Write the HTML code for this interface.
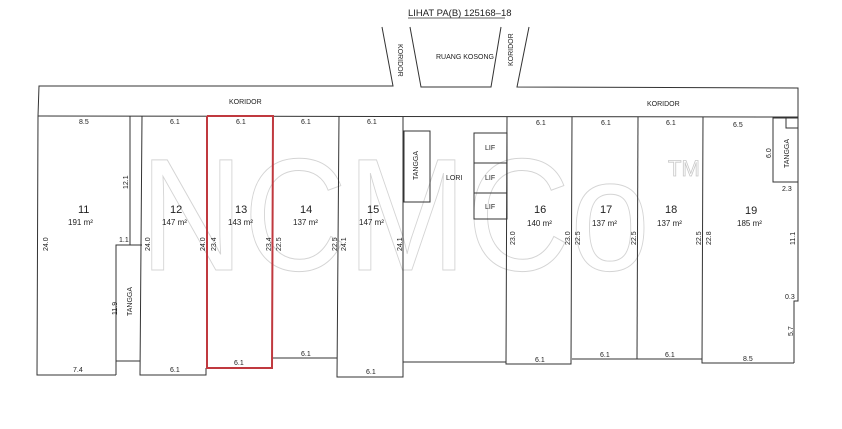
<!DOCTYPE html>
<html><head><style>
html,body{margin:0;padding:0;background:#fff;}
svg{display:block;}
text{font-family:"Liberation Sans",sans-serif;fill:#222;}
.s{font-size:7px;}
.m{font-size:8px;}
.n{font-size:11px;}
</style></head><body>
<svg width="842" height="429" viewBox="0 0 842 429" xmlns="http://www.w3.org/2000/svg">
<!-- watermark -->
<text x="140" y="270" font-size="160" textLength="510" lengthAdjust="spacingAndGlyphs" style="fill:none;stroke:#d4d4d4;stroke-width:1;font-family:'Liberation Sans',sans-serif">NCMCo</text>
<text x="668" y="176" font-size="22" style="fill:none;stroke:#c8c8c8;stroke-width:0.8">TM</text>

<g stroke="#333" stroke-width="1" fill="none">
<!-- top koridor / ruang kosong -->
<polyline points="382,27 393,86 39,86 38,116"/>
<polyline points="410,27 421,87 491,87 501,27"/>
<polyline points="529,27 517,87 798,88 798,301 794,301 794,363"/>
<line x1="38" y1="116" x2="798" y2="117"/>
<!-- unit 11 -->
<polyline points="38,116 37,375 116,375"/>
<line x1="130" y1="116" x2="130" y2="245"/>
<polyline points="116,375 116,245 142,245"/>
<line x1="116" y1="361" x2="140" y2="361"/>
<!-- 12 -->
<polyline points="142,116 140,375 206,375 206,368"/>
<!-- 14 -->
<polyline points="273,358 337,358"/>
<!-- 15 -->
<polyline points="339,116 337,377 403,377 403,117"/>
<polyline points="403,362 506,362"/>
<rect x="404" y="131" width="26" height="71"/>
<!-- LIF -->
<rect x="474" y="133" width="33" height="30"/>
<rect x="474" y="163" width="33" height="30"/>
<rect x="474" y="193" width="33" height="26"/>
<!-- 16 -->
<polyline points="507,117 506,364 571,364 572,117"/>
<line x1="572" y1="359" x2="702" y2="359"/>
<line x1="638" y1="117" x2="637" y2="359"/>
<polyline points="703,117 702,363 794,363"/>
<rect x="773" y="118" width="25" height="64"/>
<rect x="786" y="118" width="12" height="10"/>
</g>
<!-- red unit 13 -->
<polyline points="207,116 273,116 272,368 207,368 207,116" fill="none" stroke="#c0393f" stroke-width="2"/>

<!-- title -->
<text x="408" y="16" font-size="9.5">LIHAT PA(B) 125168–18</text>
<line x1="408" y1="18" x2="505" y2="18" stroke="#333" stroke-width="0.8"/>
<text x="436" y="59" class="s">RUANG KOSONG</text>
<text class="s" transform="translate(398,44) rotate(90)">KORIDOR</text>
<text class="s" transform="translate(513,66) rotate(-90)">KORIDOR</text>
<text x="229" y="104" class="s">KORIDOR</text>
<text x="647" y="106" class="s">KORIDOR</text>

<!-- top dims -->
<text x="79" y="124" class="s">8.5</text>
<text x="170" y="124" class="s">6.1</text>
<text x="236" y="124" class="s">6.1</text>
<text x="301" y="124" class="s">6.1</text>
<text x="367" y="124" class="s">6.1</text>
<text x="536" y="125" class="s">6.1</text>
<text x="601" y="125" class="s">6.1</text>
<text x="666" y="125" class="s">6.1</text>
<text x="733" y="127" class="s">6.5</text>
<text x="782" y="191" class="s">2.3</text>
<text class="s" transform="translate(771,158) rotate(-90)">6.0</text>
<text class="s" transform="translate(789,168) rotate(-90)">TANGGA</text>
<text class="s" transform="translate(418,180) rotate(-90)">TANGGA</text>
<text x="446" y="180" class="s">LORI</text>
<text x="485" y="150" class="s">LIF</text>
<text x="485" y="180" class="s">LIF</text>
<text x="485" y="209" class="s">LIF</text>

<!-- unit numbers -->
<text x="78" y="213" class="n">11</text><text x="68" y="225" class="m">191 m²</text>
<text x="170" y="213" class="n">12</text><text x="162" y="225" class="m">147 m²</text>
<text x="235" y="213" class="n">13</text><text x="228" y="225" class="m">143 m²</text>
<text x="300" y="213" class="n">14</text><text x="293" y="225" class="m">137 m²</text>
<text x="367" y="213" class="n">15</text><text x="359" y="225" class="m">147 m²</text>
<text x="534" y="213" class="n">16</text><text x="527" y="226" class="m">140 m²</text>
<text x="600" y="213" class="n">17</text><text x="592" y="226" class="m">137 m²</text>
<text x="665" y="213" class="n">18</text><text x="657" y="226" class="m">137 m²</text>
<text x="745" y="214" class="n">19</text><text x="737" y="226" class="m">185 m²</text>

<!-- vertical dims -->
<g class="s">
<text class="s" transform="translate(128,189) rotate(-90)">12.1</text>
<text class="s" transform="translate(48,251) rotate(-90)">24.0</text>
<text x="119" y="242" class="s">1.1</text>
<text class="s" transform="translate(150,251) rotate(-90)">24.0</text>
<text class="s" transform="translate(205,251) rotate(-90)">24.0</text>
<text class="s" transform="translate(216,251) rotate(-90)">23.4</text>
<text class="s" transform="translate(271,251) rotate(-90)">23.4</text>
<text class="s" transform="translate(281,251) rotate(-90)">22.5</text>
<text class="s" transform="translate(337,251) rotate(-90)">22.5</text>
<text class="s" transform="translate(346,251) rotate(-90)">24.1</text>
<text class="s" transform="translate(402,251) rotate(-90)">24.1</text>
<text class="s" transform="translate(117,315) rotate(-90)">11.9</text>
<text class="s" transform="translate(132,316) rotate(-90)">TANGGA</text>
<text class="s" transform="translate(515,245) rotate(-90)">23.0</text>
<text class="s" transform="translate(570,245) rotate(-90)">23.0</text>
<text class="s" transform="translate(580,245) rotate(-90)">22.5</text>
<text class="s" transform="translate(636,245) rotate(-90)">22.5</text>
<text class="s" transform="translate(701,245) rotate(-90)">22.5</text>
<text class="s" transform="translate(711,245) rotate(-90)">22.8</text>
<text class="s" transform="translate(795,245) rotate(-90)">11.1</text>
<text x="785" y="299" class="s">0.3</text>
<text class="s" transform="translate(793,336) rotate(-90)">5.7</text>
</g>
<!-- bottom dims -->
<text x="73" y="372" class="s">7.4</text>
<text x="170" y="372" class="s">6.1</text>
<text x="234" y="365" class="s">6.1</text>
<text x="301" y="356" class="s">6.1</text>
<text x="366" y="374" class="s">6.1</text>
<text x="535" y="362" class="s">6.1</text>
<text x="600" y="357" class="s">6.1</text>
<text x="665" y="357" class="s">6.1</text>
<text x="743" y="361" class="s">8.5</text>
</svg>
</body></html>
